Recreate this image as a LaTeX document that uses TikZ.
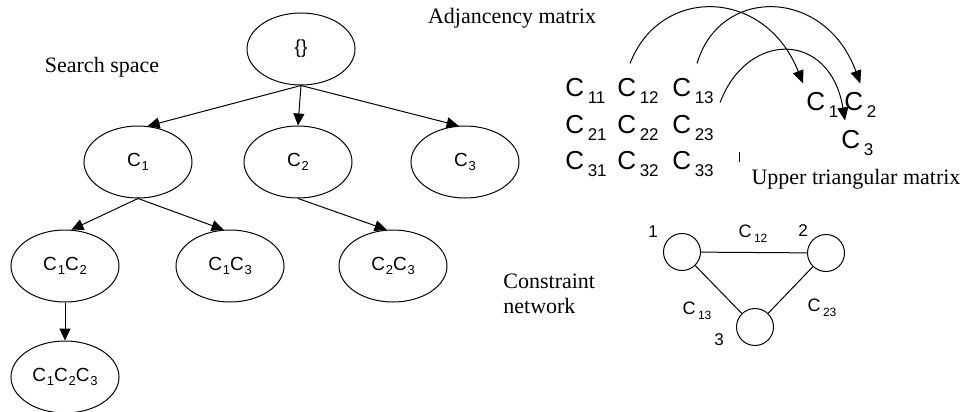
\documentclass[tikz,border=0pt]{standalone}
\usepackage{fontspec}
\setmainfont{Liberation Serif}
\setsansfont{Liberation Sans}
\usetikzlibrary{positioning,arrows.meta,shapes.geometric}
% C with a lowered, spaced subscript
\newcommand{\mC}[1]{C\kern1.8pt\raisebox{-3.5pt}{\fontsize{8.5}{8.5}\selectfont#1}}
\newcommand{\tC}[1]{C\kern.4pt\raisebox{-2pt}{\fontsize{6.5}{6.5}\selectfont#1}}
\newcommand{\nC}[1]{C\kern1.2pt\raisebox{-2.5pt}{\fontsize{6}{6}\selectfont#1}}
\tikzset{
  node-set/.style={draw,ellipse,line width=.5pt,minimum width=54pt,
    minimum height=36pt,inner sep=0pt,font=\sffamily\fontsize{9.5}{10}\selectfont},
  node-var/.style={draw,circle,line width=.5pt,minimum size=18.5pt,inner sep=0pt},
  node-entry/.style={inner sep=0pt,anchor=base west,
    font=\sffamily\fontsize{13}{13}\selectfont},
  node-caption/.style={inner sep=0pt,font=\fontsize{11}{12.5}\selectfont},
  node-tag/.style={inner sep=0pt,font=\sffamily\fontsize{8.5}{9}\selectfont},
  node-rel/.style={inner sep=0pt,font=\sffamily\fontsize{9}{9}\selectfont},
  arrow/.style={-{Triangle[length=6pt,width=5.5pt]},line width=.5pt},
  arrow-arc/.style={-{Triangle[length=6.5pt,width=5.5pt]},line width=.5pt},
  edge/.style={line width=.5pt},
}
\begin{document}
\begin{tikzpicture}[x=0.5pt,y=-0.5pt]
  \useasboundingbox (0,0) rectangle (965,412);
  % search space
  \node[node-caption] (cap-search) at (102,67) {Search space};
  \node[node-set] (n0) at (301,49) {\{\}};
  \node[node-set] (n1) at (138,162) {\tC{1}};
  \node[node-set] (n2) at (298,162) {\tC{2}};
  \node[node-set] (n3) at (465,162) {\tC{3}};
  \node[node-set] (n12) at (65,266) {\tC{1}\tC{2}};
  \node[node-set] (n13) at (230,266) {\tC{1}\tC{3}};
  \node[node-set] (n23) at (393,266) {\tC{2}\tC{3}};
  \node[node-set] (n123) at (65,377) {\tC{1}\tC{2}\tC{3}};
  \draw[arrow] (n0.south) -- (n1.75);
  \draw[arrow] (n0.south) -- (n2.north);
  \draw[arrow] (n0.south) -- (n3.100);
  \draw[arrow] (n1.south) -- (n12.80);
  \draw[arrow] (n1.south) -- (n13.100);
  \draw[arrow] (n2.south) -- (n23.100);
  \draw[arrow] (n12.south) -- (n123.north);
  % adjacency matrix
  \node[node-caption] (cap-adj) at (512,18) {Adjancency matrix};
  \node[node-entry] (m11) at (565,97) {\mC{11}};
  \node[node-entry] (m12) at (617,97) {\mC{12}};
  \node[node-entry] (m13) at (672,97) {\mC{13}};
  \node[node-entry] (m21) at (565,133) {\mC{21}};
  \node[node-entry] (m22) at (617,133) {\mC{22}};
  \node[node-entry] (m23) at (672,133) {\mC{23}};
  \node[node-entry] (m31) at (565,169) {\mC{31}};
  \node[node-entry] (m32) at (617,169) {\mC{32}};
  \node[node-entry] (m33) at (672,169) {\mC{33}};
  \coordinate (tick) at (739,152);
  \draw[edge] (tick) -- ++(0,10);
  % upper triangular matrix
  \node[node-entry] (u1) at (806,110) {\mC{1}};
  \node[node-entry] (u2) at (844,110) {\mC{2}};
  \node[node-entry] (u3) at (841,148) {\mC{3}};
  \node[node-caption] (cap-upper) at (856,179) {Upper triangular matrix};
  \draw[arrow-arc] ([shift={(-8,-15)}]m12.north) .. controls +(30,-78) and +(-38,-96) .. ([shift={(-3,-8)}]u1.north west);
  \draw[arrow-arc] ([shift={(4,-15)}]m13.north) .. controls +(23,-78) and +(-35,-96) .. ([shift={(0,-8)}]u2.north);
  \draw[arrow-arc] ([shift={(6,-2)}]m13.south east) .. controls +(27,-72) and +(-15,-90) .. ([shift={(4,-9)}]u3.north west);
  % constraint network
  \node[node-caption,align=left,anchor=west] (cap-net) at (503,294) {Constraint\\network};
  \node[node-var] (v1) at (682,252) {};
  \node[node-var] (v2) at (826,253) {};
  \node[node-var] (v3) at (755,327) {};
  \draw[edge] (v1) -- (v2);
  \draw[edge] (v1) -- (v3);
  \draw[edge] (v2) -- (v3);
  \node[node-tag] (t1) at (653,232) {1};
  \node[node-tag] (t2) at (803,231) {2};
  \node[node-tag] (t3) at (719,340) {3};
  \node[node-rel] (r12) at (753,234) {\nC{12}};
  \node[node-rel] (r13) at (697,311) {\nC{13}};
  \node[node-rel] (r23) at (822,308) {\nC{23}};
\end{tikzpicture}
\end{document}
